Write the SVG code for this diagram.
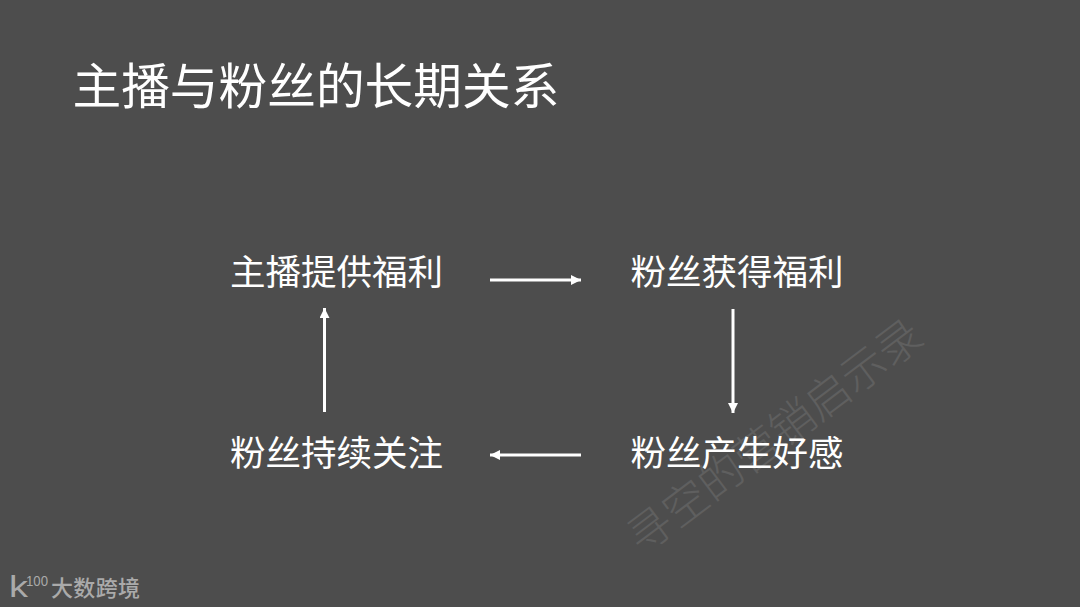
<svg xmlns="http://www.w3.org/2000/svg" width="1080" height="607" viewBox="0 0 1080 607">
<style>
text{font-family:"Noto Sans CJK SC","Liberation Sans",sans-serif;}
.t{fill:#fff;font-size:35.5px;}
.h{fill:#fff;font-size:48.700px;}
.c{stroke:#fff;stroke-width:3;fill:none;}
.wm{fill:#5f5f5f;font-size:44.500px;font-weight:300;}
.lg{fill:#aaa;}
</style>
<defs>
<marker id="a" markerUnits="userSpaceOnUse" markerWidth="10" markerHeight="10" refX="10" refY="5" orient="auto"><path d="M0 0L10 5L0 10Z" fill="#fff"/></marker>
</defs>
<rect width="1080" height="607" fill="#4d4d4d"/>
<text class="wm" transform="translate(642 556) rotate(-37)">寻空的营销启示录</text>
<g id="title"><text class="h" x="72.500" y="104">主播与粉丝的长期关系</text></g>
<g id="n1"><text class="t" x="230" y="285">主播提供福利</text></g>
<g id="n2"><text class="t" x="630.500" y="285">粉丝获得福利</text></g>
<g id="n3"><text class="t" x="630.500" y="466">粉丝产生好感</text></g>
<g id="n4"><text class="t" x="230" y="466">粉丝持续关注</text></g>
<g id="connectors">
<line class="c" x1="490" y1="280" x2="581" y2="280" marker-end="url(#a)"/>
<line class="c" x1="733" y1="309" x2="733" y2="413" marker-end="url(#a)"/>
<line class="c" x1="581" y1="455" x2="490" y2="455" marker-end="url(#a)"/>
<line class="c" x1="324.500" y1="412" x2="324.500" y2="308" marker-end="url(#a)"/>
</g>
<g id="logo">
<text class="lg" x="9" y="597" font-size="29" textLength="19" lengthAdjust="spacingAndGlyphs" style="font-family:'Liberation Sans',sans-serif">k</text>
<text class="lg" x="26" y="586" font-size="14" textLength="22" lengthAdjust="spacingAndGlyphs" style="font-family:'Liberation Sans',sans-serif">100</text>
<text class="lg" x="51" y="596" font-size="22" font-weight="500" textLength="89">大数跨境</text>
</g>
</svg>
